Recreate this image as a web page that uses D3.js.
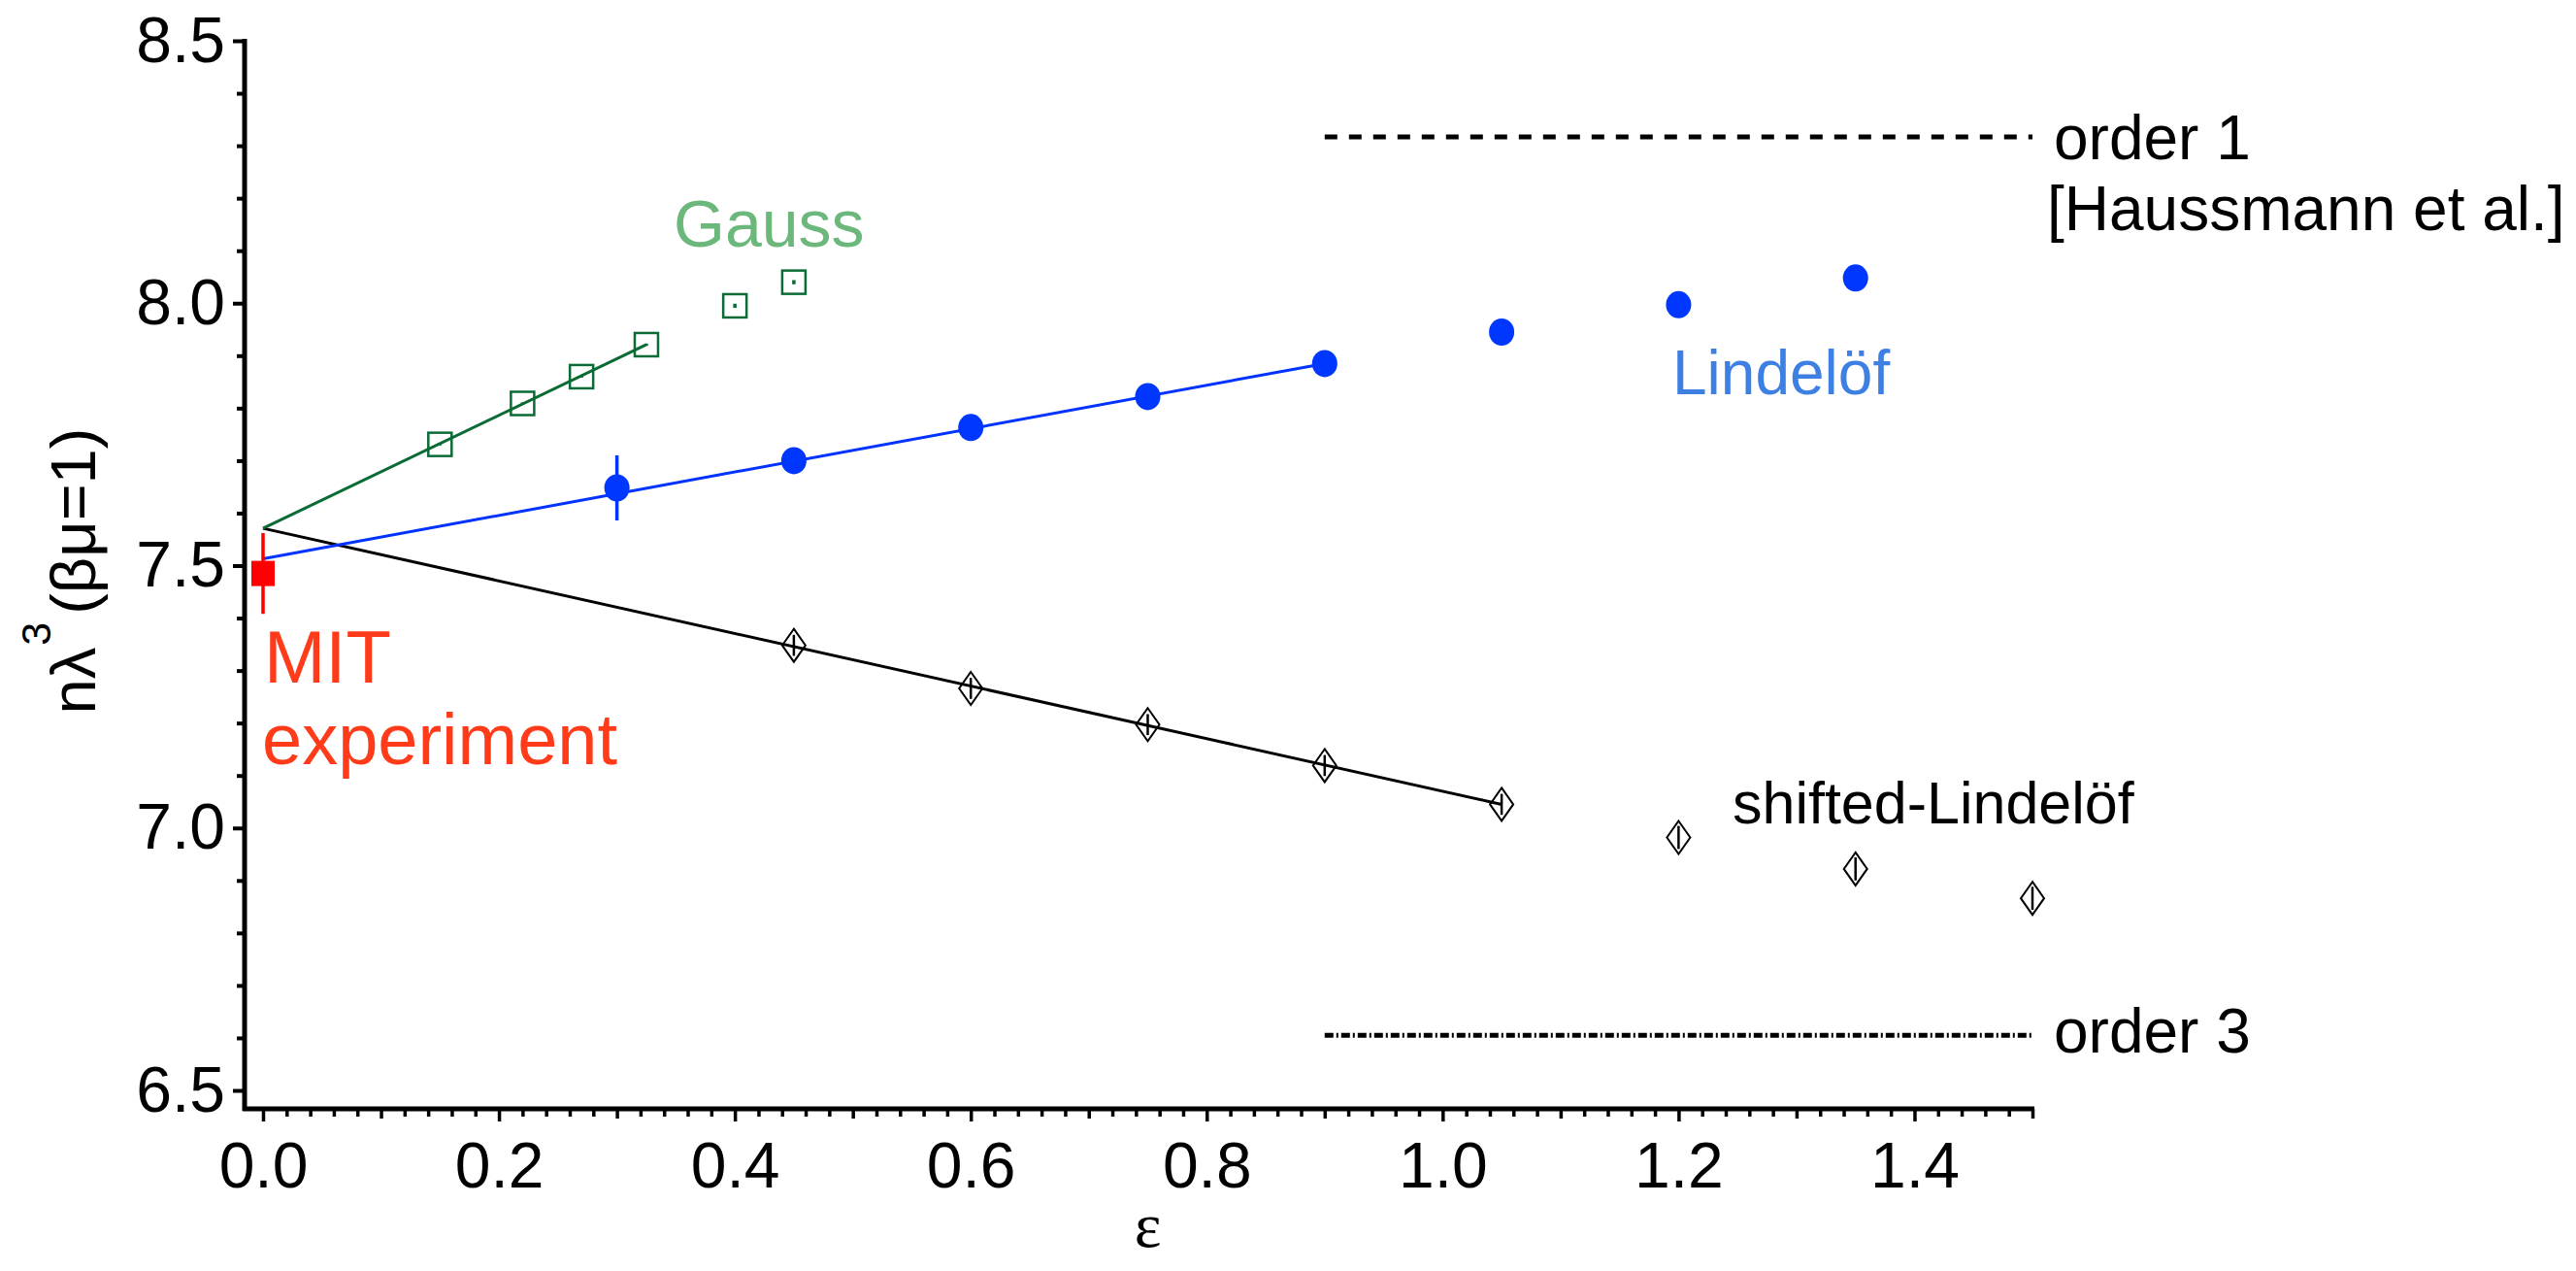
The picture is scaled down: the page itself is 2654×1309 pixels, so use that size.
<!DOCTYPE html>
<html>
<head>
<meta charset="utf-8">
<script src="https://cdn.jsdelivr.net/npm/d3@7"></script>
<style>
  body { margin: 0; background: #fff; }
  text { font-family: "Liberation Sans", Arial, Helvetica, sans-serif; }
</style>
</head>
<body>
<svg id="chart" width="2654" height="1309"></svg>
<script>
// values
const gaussEps = [0.15, 0.22, 0.27, 0.325, 0.40, 0.45];
const gaussVal = [7.731, 7.809, 7.860, 7.921, 7.995, 8.040];
const gaussErr = [0.002, 0.002, 0.002, 0.002, 0.004, 0.004];

const lindEps = [0.3, 0.45, 0.6, 0.75, 0.9, 1.05, 1.2, 1.35];
const lindVal = [7.648, 7.700, 7.763, 7.822, 7.885, 7.945, 7.997, 8.048];
const lindErr = [0.062, 0.005, 0.005, 0.005, 0.005, 0.005, 0.005, 0.005];

const shiftEps = [0.45, 0.6, 0.75, 0.9, 1.05, 1.2, 1.35, 1.5];
const shiftVal = [7.348, 7.266, 7.197, 7.119, 7.045, 6.982, 6.922, 6.866];
const shiftErr = [0.02, 0.02, 0.02, 0.02, 0.02, 0.022, 0.022, 0.022];

const mitEps = [0.0];
const mitVal = [7.485];
const mitErr = [0.077];

// linear fits (start / end points)
const gaussFit = [[0, 7.571], [0.325, 7.921]];
const lindFit = [[0, 7.513], [0.9, 7.885]];
const shiftFit = [[0, 7.571], [1.05, 7.045]];

const order1 = [[0.9, 8.317], [1.5, 8.317]];
const order3 = [[0.9, 6.605], [1.5, 6.605]];

const xMajor = [0, 0.2, 0.4, 0.6, 0.8, 1.0, 1.2, 1.4];
const yMajor = [6.5, 7.0, 7.5, 8.0, 8.5];

const svg = d3.select("#chart");

const x = d3.scaleLinear().domain([0, 1.5]).range([271, 2094]);
const y = d3.scaleLinear().domain([6.5, 8.5]).range([1123, 42]);
const xAxisY = 1142, yAxisX = 252;

const fontSize = 66;

// ---- axes ----
const minorX = d3.range(0, 1.5001, 0.02).filter(v => Math.abs(v * 10 - Math.round(v * 10)) > 1e-6);
const midX = d3.range(0.1, 1.5001, 0.2);

function xTicks(vals, len) {
  svg.append("g")
    .attr("transform", `translate(0,${xAxisY})`)
    .call(d3.axisBottom(x).tickValues(vals).tickSize(len).tickFormat(""))
    .call(g => g.select(".domain").remove())
    .selectAll("line").attr("stroke", "#000").attr("stroke-width", 3.5);
}
xTicks(minorX, 8);
xTicks(midX, 10);
const xg = svg.append("g")
  .attr("transform", `translate(0,${xAxisY})`)
  .call(d3.axisBottom(x).tickValues(xMajor).tickSize(13).tickPadding(21).tickFormat(d3.format(".1f")));
xg.select(".domain").remove();
xg.selectAll("line").attr("stroke", "#000").attr("stroke-width", 3.5);
xg.selectAll("text").attr("font-size", fontSize).attr("fill", "#000")
  .style("font-family", "Liberation Sans, Arial, sans-serif");

const minorY = d3.range(6.6, 8.5, 0.1).filter(v => Math.abs(v * 2 - Math.round(v * 2)) > 1e-6);
svg.append("g")
  .attr("transform", `translate(${yAxisX},0)`)
  .call(d3.axisLeft(y).tickValues(minorY).tickSize(8).tickFormat(""))
  .call(g => g.select(".domain").remove())
  .selectAll("line").attr("stroke", "#000").attr("stroke-width", 4);
const yg = svg.append("g")
  .attr("transform", `translate(${yAxisX},0)`)
  .call(d3.axisLeft(y).tickValues(yMajor).tickSize(12).tickPadding(8).tickFormat(d3.format(".1f")));
yg.select(".domain").remove();
yg.selectAll("line").attr("stroke", "#000").attr("stroke-width", 4);
yg.selectAll("text").attr("font-size", fontSize).attr("fill", "#000")
  .style("font-family", "Liberation Sans, Arial, sans-serif");

// axis lines
svg.append("line").attr("x1", yAxisX).attr("x2", yAxisX).attr("y1", y(8.5) - 2).attr("y2", xAxisY + 2)
  .attr("stroke", "#000").attr("stroke-width", 5);
svg.append("line").attr("x1", yAxisX - 2).attr("x2", x(1.5) + 2).attr("y1", xAxisY).attr("y2", xAxisY)
  .attr("stroke", "#000").attr("stroke-width", 5);

// axis titles
svg.append("text")
  .attr("x", x(0.75)).attr("y", 1284)
  .attr("text-anchor", "middle")
  .attr("font-size", 66)
  .style("font-family", "Liberation Serif, Times New Roman, serif")
  .text("ε");

const yl = svg.append("text")
  .attr("transform", "translate(98,588) rotate(-90)")
  .attr("text-anchor", "middle")
  .attr("font-size", 65);
yl.append("tspan").text("nλ");
yl.append("tspan").attr("font-size", 43).attr("dx", 2).attr("dy", -46).text("3");
yl.append("tspan").attr("dx", 8).attr("dy", 46).text("(βμ=1)");

// ---- reference lines ----
const line = d3.line().x(d => x(d[0])).y(d => y(d[1]));
svg.append("path").attr("d", line(order1)).attr("fill", "none")
  .attr("stroke", "#000").attr("stroke-width", 5).attr("stroke-dasharray", "13,12");
svg.append("path").attr("d", line(order3)).attr("fill", "none")
  .attr("stroke", "#000").attr("stroke-width", 5).attr("stroke-dasharray", "9,3,2,3");

// ---- fit lines ----
svg.append("path").attr("d", line(shiftFit)).attr("fill", "none").attr("stroke", "#000").attr("stroke-width", 3);
svg.append("path").attr("d", line(gaussFit)).attr("fill", "none").attr("stroke", "#0a6b35").attr("stroke-width", 3);
svg.append("path").attr("d", line(lindFit)).attr("fill", "none").attr("stroke", "#0033ff").attr("stroke-width", 3);

// ---- markers ----
function errBars(eps, val, err, color, w) {
  svg.append("g").selectAll("line")
    .data(eps.map((e, i) => [e, val[i], err[i]]))
    .join("line")
    .attr("x1", d => x(d[0])).attr("x2", d => x(d[0]))
    .attr("y1", d => y(d[1] - d[2])).attr("y2", d => y(d[1] + d[2]))
    .attr("stroke", color).attr("stroke-width", w);
}

// Gauss squares
const gData = gaussEps.map((e, i) => [e, gaussVal[i]]);
svg.append("g").selectAll("rect").data(gData).join("rect")
  .attr("x", d => x(d[0]) - 12).attr("y", d => y(d[1]) - 12)
  .attr("width", 24).attr("height", 24)
  .attr("fill", "none").attr("stroke", "#0a6b35").attr("stroke-width", 2.5);
errBars(gaussEps, gaussVal, gaussErr, "#0a6b35", 3.5);

// Lindelöf circles
errBars(lindEps, lindVal, lindErr, "#0033ff", 3.5);
svg.append("g").selectAll("ellipse").data(lindEps.map((e, i) => [e, lindVal[i]])).join("ellipse")
  .attr("cx", d => x(d[0])).attr("cy", d => y(d[1]))
  .attr("rx", 13).attr("ry", 14)
  .attr("fill", "#0037ff");

// shifted-Lindelöf diamonds
const dia = "M0,-17L12,0L0,17L-12,0Z";
svg.append("g").selectAll("path").data(shiftEps.map((e, i) => [e, shiftVal[i]])).join("path")
  .attr("transform", d => `translate(${x(d[0])},${y(d[1])})`)
  .attr("d", dia).attr("fill", "none").attr("stroke", "#000").attr("stroke-width", 2);
errBars(shiftEps, shiftVal, shiftErr, "#000", 2.5);

// MIT
errBars(mitEps, mitVal, mitErr, "#ff0000", 3.5);
svg.append("g").selectAll("rect").data(mitEps.map((e, i) => [e, mitVal[i]])).join("rect")
  .attr("x", d => x(d[0]) - 12).attr("y", d => y(d[1]) - 13)
  .attr("width", 24).attr("height", 26)
  .attr("fill", "#ff0000");

// ---- labels ----
function label(txt, px, py, color, size) {
  svg.append("text").attr("x", px).attr("y", py).attr("fill", color)
    .attr("font-size", size).text(txt);
}
label("Gauss", 694, 254, "#6cb87c", 68);
label("Lindelöf", 1723, 406, "#3d7fe3", 64);
label("shifted-Lindelöf", 1785, 848, "#000", 61);
label("order 1", 2116, 164, "#000", 64);
label("[Haussmann et al.]", 2109, 237, "#000", 64);
label("order 3", 2116, 1084, "#000", 64);
label("MIT", 272, 703, "#ff3b1a", 76);
label("experiment", 270, 787, "#ff3b1a", 74);
</script>
</body>
</html>
